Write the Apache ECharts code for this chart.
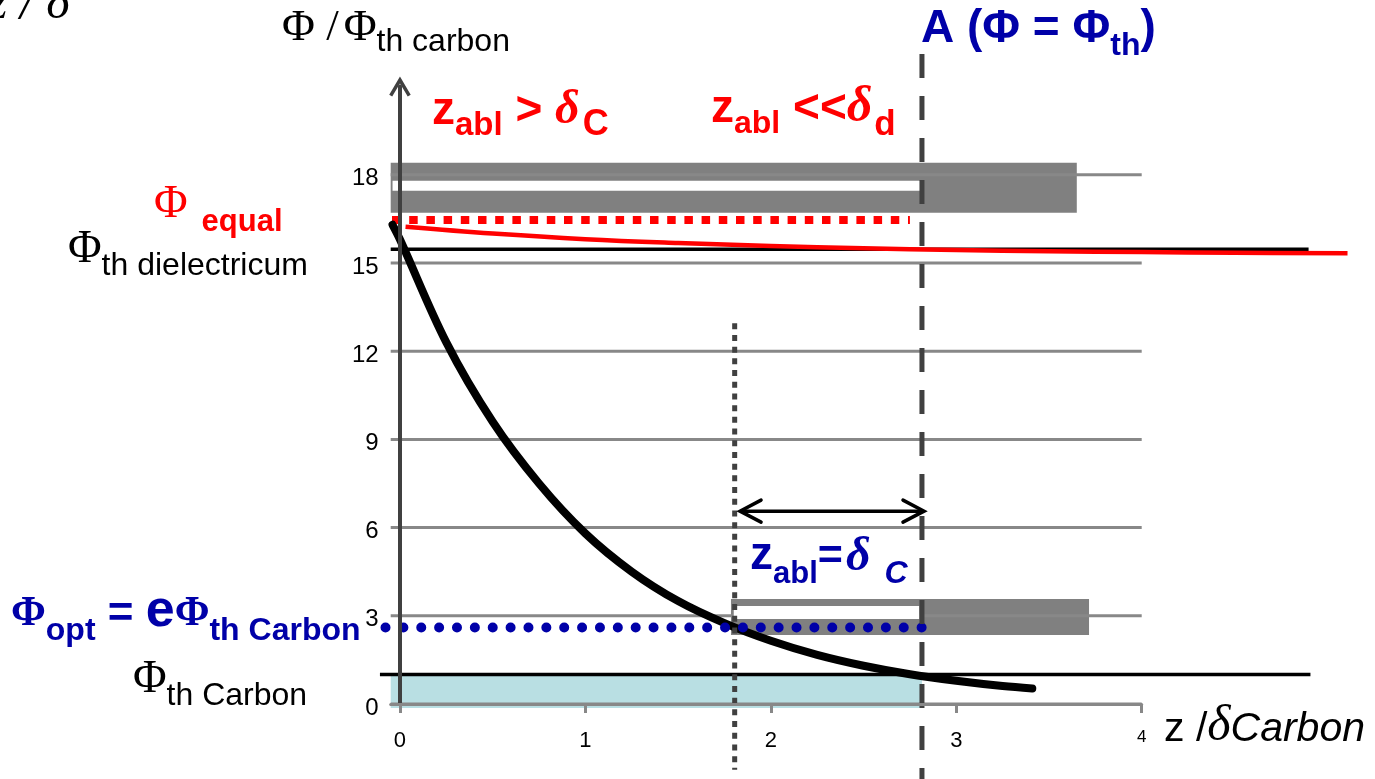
<!DOCTYPE html>
<html>
<head>
<meta charset="utf-8">
<script src="https://cdn.jsdelivr.net/npm/echarts@6/dist/echarts.min.js"></script>
<style>
  html, body { margin: 0; padding: 0; background: #ffffff; }
  #chart { width: 1375px; height: 779px; }
</style>
</head>
<body>
<div id="chart"></div>
<script>
// ---- axes ----
const zTicks = [0, 1, 2, 3, 4];
const phiTicks = [0, 3, 6, 9, 12, 15, 18];
const zRange = [-0.05, 4];
const phiRange = [0, 21];

// ---- fluence profile inside the carbon layer, Φ(z) ----
const decayZ   = [-0.04, 0, 0.25, 0.5, 0.75, 1, 1.25, 1.5, 1.75, 2, 2.25, 2.5, 2.75, 3, 3.25, 3.41];
const decayPhi = [16.3, 15.8, 12.3, 9.6, 7.5, 5.8, 4.5, 3.5, 2.75, 2.15, 1.67, 1.3, 1.01, 0.79, 0.61, 0.53];

// ---- equal-ablation fluence curve ----
const equalZ   = [0.03, 0.5, 1, 1.5, 2, 2.5, 3, 3.5, 4, 4.5, 5.11];
const equalPhi = [16.23, 16.0, 15.81, 15.68, 15.58, 15.5, 15.44, 15.4, 15.37, 15.35, 15.33];

// ---- reference levels ----
const phiThCarbon = 1.0;
const phiThDielectric = 15.47;
const phiEqual = 16.46;
const phiOpt = 2.6;
const zAblation = 2.815;
const zOptimum = 1.805;

// extents of the reference lines (z for horizontal, Φ for vertical)
const thCarbonSpan = [-0.108, 4.91];
const thDielSpan = [-0.05, 4.9];
const equalSpan = [-0.043, 2.75];
const optSpan = [-0.078, 2.815];
const ablationMarkerSpan = [22.11, -2.55];
const optimumMarkerSpan = [12.95, -2.24];

// double arrow: z from, z to, Φ level
const depthArrow = [1.834, 2.826, 6.56];

// layer blocks: [z0, z1, Φ0, Φ1]
const grayBands = [[-0.05, 3.65, 16.71, 18.41], [1.785, 3.716, 2.35, 3.57]];
const whiteBands = [[-0.04, 2.82, 17.46, 17.8], [1.80, 2.80, 2.89, 3.33]];
const ablatedBand = [[-0.05, 2.815, -0.14, 1.0]];

// ---- styling ----
const SANS = "'Liberation Sans', Arial, sans-serif";
const SERIF = "'Liberation Serif', 'Times New Roman', serif";
const RED = '#FF0000';
const BLUE = '#0000A8';
const BLACK = '#000000';
const DARK = '#404040';
const GRID = '#888888';

const zip = (xs, ys) => xs.map((x, i) => [x, ys[i]]);

function rectRenderer(fill) {
  return function (params, api) {
    const p0 = api.coord([api.value(0), api.value(3)]);
    const p1 = api.coord([api.value(1), api.value(2)]);
    return {
      type: 'rect',
      shape: { x: p0[0], y: p0[1], width: p1[0] - p0[0], height: p1[1] - p0[1] },
      style: { fill: fill }
    };
  };
}

function rectSeries(data, fill, z) {
  return {
    type: 'custom', z: z, silent: true,
    data: data, encode: { x: [0, 1], y: [2, 3] },
    renderItem: rectRenderer(fill)
  };
}

// a polyline through data points, drawn unclipped
function pathSeries(points, style, z, smooth) {
  return {
    type: 'custom', z: z, silent: true,
    data: points, encode: { x: 0, y: 1 },
    renderItem: function (params, api) {
      if (params.dataIndex !== 0) return null;
      const pts = points.map(p => api.coord(p));
      return {
        type: 'polyline',
        shape: { points: pts, smooth: smooth || 0 },
        style: Object.assign({ fill: 'none' }, style)
      };
    }
  };
}

// multi-font label, laid out left to right on given baselines
// each part: [text, size, family, weight, fontStyle, color, baseline, gapBefore]
const measureCtx = document.createElement('canvas').getContext('2d');
function label(x, parts) {
  const out = [];
  let cx = x;
  parts.forEach(p => {
    const [text, size, family, weight, fstyle, color, base, gap] = p;
    cx += gap || 0;
    measureCtx.font = fstyle + ' ' + weight + ' ' + size + 'px ' + family;
    const w = measureCtx.measureText(text).width;
    const k = family === SERIF ? 0.3375 : 0.3465;
    out.push({
      type: 'text', x: cx, y: base - k * size, z: 100, silent: true,
      style: {
        text: text, fontSize: size, fontFamily: family, fontWeight: weight,
        fontStyle: fstyle, fill: color, align: 'left', verticalAlign: 'middle'
      }
    });
    cx += w;
  });
  return out;
}

const labels = [].concat(
  label(-12, [['z / δ', 50, SERIF, 'normal', 'italic', BLACK, 22]]),
  label(282, [
    ['Φ /', 45, SERIF, 'normal', 'normal', BLACK, 43],
    ['Φ', 45, SERIF, 'normal', 'normal', BLACK, 43, 5],
    ['th carbon', 32, SANS, 'normal', 'normal', BLACK, 53]
  ]),
  label(921, [
    ['A (Φ = Φ', 46, SANS, 'bold', 'normal', BLUE, 45],
    ['th', 32, SANS, 'bold', 'normal', BLUE, 57],
    [')', 46, SANS, 'bold', 'normal', BLUE, 45]
  ]),
  label(432, [
    ['z', 46, SANS, 'bold', 'normal', RED, 127],
    ['abl', 33, SANS, 'bold', 'normal', RED, 137],
    [' > ', 46, SANS, 'bold', 'normal', RED, 127],
    ['δ', 48, SERIF, 'bold', 'italic', RED, 127],
    ['C', 36, SANS, 'bold', 'normal', RED, 138, 3]
  ]),
  label(711, [
    ['z', 46, SANS, 'bold', 'normal', RED, 125],
    ['abl', 32, SANS, 'bold', 'normal', RED, 135],
    [' <<', 46, SANS, 'bold', 'normal', RED, 125],
    ['δ', 50, SERIF, 'bold', 'italic', RED, 125],
    ['d', 35, SANS, 'bold', 'normal', RED, 137, 2]
  ]),
  label(154, [
    ['Φ', 46, SERIF, 'normal', 'normal', RED, 220],
    ['equal', 31, SANS, 'bold', 'normal', RED, 233, 14]
  ]),
  label(68, [
    ['Φ', 46, SERIF, 'normal', 'normal', BLACK, 265],
    ['th dielectricum', 32, SANS, 'normal', 'normal', BLACK, 277]
  ]),
  label(11, [
    ['Φ', 42, SERIF, 'bold', 'normal', BLUE, 628],
    ['opt', 32, SANS, 'bold', 'normal', BLUE, 642],
    [' = ', 44, SANS, 'bold', 'normal', BLUE, 630],
    ['e', 52, SANS, 'bold', 'normal', BLUE, 630],
    ['Φ', 42, SERIF, 'bold', 'normal', BLUE, 628],
    ['th Carbon', 32, SANS, 'bold', 'normal', BLUE, 642]
  ]),
  label(133, [
    ['Φ', 46, SERIF, 'normal', 'normal', BLACK, 695],
    ['th Carbon', 32, SANS, 'normal', 'normal', BLACK, 707]
  ]),
  label(750, [
    ['z', 46, SANS, 'bold', 'normal', BLUE, 572],
    ['abl', 31, SANS, 'bold', 'normal', BLUE, 585],
    ['=', 43, SANS, 'bold', 'normal', BLUE, 572],
    ['δ', 48, SERIF, 'bold', 'italic', BLUE, 574, 3],
    [' C', 32, SANS, 'bold', 'italic', BLUE, 585, 5]
  ]),
  label(1164, [
    ['z /', 41, SANS, 'normal', 'normal', BLACK, 744],
    ['δ', 50, SERIF, 'normal', 'italic', BLACK, 744],
    ['Carbon', 41, SANS, 'normal', 'italic', BLACK, 744]
  ])
);

const chart = echarts.init(document.getElementById('chart'), null, { renderer: 'canvas' });

const option = {
  animation: false,
  backgroundColor: '#ffffff',
  grid: { left: 390.7, right: 233.3, top: 86.6, bottom: 75 },
  xAxis: {
    type: 'value',
    min: zRange[0],
    max: zRange[1],
    z: 10,
    axisLine: { show: true, lineStyle: { color: GRID, width: 3 } },
    axisTick: { show: true, customValues: zTicks, length: 9, lineStyle: { color: GRID, width: 3 } },
    axisLabel: {
      customValues: zTicks,
      fontSize: 22, color: BLACK, fontFamily: SANS, margin: 26,
      formatter: v => (v === zTicks[zTicks.length - 1] ? '{s|' + v + '}' : String(v)),
      rich: { s: { fontSize: 17, fontFamily: SANS, color: BLACK, lineHeight: 14 } }
    },
    splitLine: { show: false }
  },
  yAxis: {
    type: 'value',
    min: phiRange[0],
    max: phiRange[1],
    interval: 3,
    z: 10,
    axisLine: {
      show: true,
      lineStyle: { color: DARK, width: 4 },
      symbol: ['none', 'path://M50,0 L100,85 L86.2,93.1 L50,31.6 L13.8,93.1 L0,85 Z'],
      symbolSize: [22, 20]
    },
    axisTick: { show: false },
    axisLabel: {
      margin: 12,
      formatter: v => (phiTicks.indexOf(v) >= 0 ? '{n|' + v + '}' : ''),
      rich: { n: { fontSize: 24, fontFamily: SANS, color: BLACK, padding: [8, 0, 0, 0] } }
    },
    splitLine: { show: false }
  },
  graphic: labels,
  series: [
    rectSeries(grayBands, '#808080', 2),
    rectSeries(ablatedBand, '#B9DFE3', 2),
    {
      // horizontal grid lines
      type: 'custom', z: 3, silent: true,
      data: phiTicks.map(v => [v]), encode: { y: 0 },
      renderItem: function (params, api) {
        const a = api.coord([zRange[0], api.value(0)]);
        const b = api.coord([zRange[1], api.value(0)]);
        return {
          type: 'line',
          shape: { x1: a[0], y1: a[1], x2: b[0], y2: b[1] },
          style: { stroke: GRID, lineWidth: 3 }
        };
      }
    },
    rectSeries(whiteBands, '#FFFFFF', 4),
    pathSeries([[thDielSpan[0], phiThDielectric], [thDielSpan[1], phiThDielectric]],
      { stroke: BLACK, lineWidth: 3.5 }, 5),
    pathSeries([[thCarbonSpan[0], phiThCarbon], [thCarbonSpan[1], phiThCarbon]],
      { stroke: BLACK, lineWidth: 3.5 }, 5),
    pathSeries(zip(equalZ, equalPhi), { stroke: RED, lineWidth: 4.5 }, 6, 0.4),
    pathSeries([[equalSpan[0], phiEqual], [equalSpan[1], phiEqual]],
      { stroke: RED, lineWidth: 8, lineDash: [8.5, 8.7] }, 6),
    pathSeries(zip(decayZ, decayPhi), { stroke: BLACK, lineWidth: 8, lineCap: 'round', lineJoin: 'round' }, 7, 0.35),
    pathSeries([[optSpan[0], phiOpt], [optSpan[1], phiOpt]],
      { stroke: BLUE, lineWidth: 10, lineDash: [0.01, 17.86], lineCap: 'round' }, 8),
    pathSeries([[zAblation, ablationMarkerSpan[0]], [zAblation, ablationMarkerSpan[1]]],
      { stroke: DARK, lineWidth: 5, lineDash: [24, 18] }, 9),
    pathSeries([[zOptimum, optimumMarkerSpan[0]], [zOptimum, optimumMarkerSpan[1]]],
      { stroke: DARK, lineWidth: 5, lineDash: [6, 5.7] }, 9),
    {
      // double-headed arrow marking the ablation depth
      type: 'custom', z: 9, silent: true,
      data: [depthArrow], encode: { x: [0, 1], y: 2 },
      renderItem: function (params, api) {
        const a = api.coord([api.value(0), api.value(2)]);
        const b = api.coord([api.value(1), api.value(2)]);
        const w = 21, h = 11;
        const st = { stroke: BLACK, lineWidth: 3.5, fill: 'none', lineCap: 'round', lineJoin: 'miter' };
        return {
          type: 'group',
          children: [
            { type: 'line', shape: { x1: a[0] + 2, y1: a[1], x2: b[0] - 2, y2: b[1] }, style: st },
            { type: 'polyline', shape: { points: [[a[0] + w, a[1] - h], [a[0], a[1]], [a[0] + w, a[1] + h]] }, style: st },
            { type: 'polyline', shape: { points: [[b[0] - w, b[1] - h], [b[0], b[1]], [b[0] - w, b[1] + h]] }, style: st }
          ]
        };
      }
    }
  ]
};

chart.setOption(option);
</script>
</body>
</html>
